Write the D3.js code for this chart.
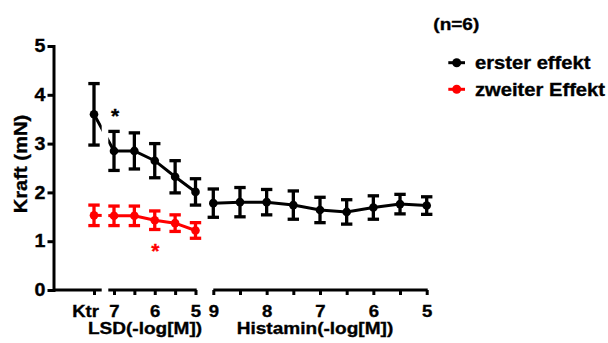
<!DOCTYPE html>
<html><head><meta charset="utf-8">
<script src="https://cdn.jsdelivr.net/npm/d3@7"></script>
<style>
body{margin:0;background:#fff}
svg{display:block}
text{font-family:"Liberation Sans",Arial,Helvetica,sans-serif;font-weight:bold;fill:#000;stroke-width:0.35px;paint-order:stroke}
</style></head><body>
<svg id="c" width="608" height="343"></svg>
<script>
// ---- data ----
const ktrLabel = ["Ktr"];
const lsdConc = [7, 6.5, 6, 5.5, 5];
const histConc = [9, 8.5, 8, 7.5, 7, 6.5, 6, 5.5, 5];
const lsdTickLabels = [7, 6, 5];
const histTickLabels = [9, 8, 7, 6, 5];
const yTicks = [0, 1, 2, 3, 4, 5];

const ersterKtr = [3.60], ersterKtrErr = [0.63];
const ersterLsd = [2.85, 2.85, 2.65, 2.32, 2.01];
const ersterLsdErr = [0.40, 0.37, 0.35, 0.33, 0.27];
const ersterHist = [1.78, 1.80, 1.80, 1.74, 1.64, 1.60, 1.69, 1.76, 1.73];
const ersterHistErr = [0.29, 0.30, 0.26, 0.29, 0.26, 0.25, 0.24, 0.20, 0.18];

const zweiterKtr = [1.53], zweiterKtrErr = [0.21];
const zweiterLsd = [1.52, 1.52, 1.43, 1.37, 1.22];
const zweiterLsdErr = [0.20, 0.20, 0.19, 0.17, 0.16];

const seriesNames = ["erster effekt", "zweiter Effekt"];
const seriesColors = ["#000000", "#ff0000"];
const nLabel = "(n=6)";
const xTitles = ["LSD(-log[M])", "Histamin(-log[M])"];
const yTitle = "Kraft (mN)";
const sigMarks = [{series: 0, conc: 7, above: true}, {series: 1, conc: 6, above: false}];

// ---- scales ----
const svg = d3.select("#c");
const y = d3.scaleLinear([0, 5], [290, 46]);
const xK = d3.scalePoint().domain(ktrLabel).range([54, 134]).padding(0.5);
const xL = d3.scaleLinear([7, 5], [114, 195.5]);
const xH = d3.scaleLinear([9, 5], [213.3, 426.7]);
const y0 = y(0);

// ---- axes ----
const segs = [[53.5, 101.7], [xL(7) - 5.7, xL(5) + 1.2], [xH(9), xH(5) + 1]];
segs.forEach(s => svg.append("line").attr("x1", s[0]).attr("x2", s[1]).attr("y1", y0).attr("y2", y0)
  .attr("stroke", "#000").attr("stroke-width", 3));

function styleAxis(g) {
  g.select(".domain").remove();
  g.selectAll(".tick line").attr("stroke", "#000").attr("stroke-width", 3);
  g.selectAll(".tick text").style("font-size", "16.5px").attr("fill", "#000").style("stroke", "#000");
  g.attr("font-family", null).attr("font-size", null);
}
const gK = svg.append("g").attr("transform", `translate(0,${y0})`)
  .call(d3.axisBottom(xK).tickSize(5).tickPadding(10)).call(styleAxis);
gK.selectAll(".tick text").attr("dx", -9);
svg.append("g").attr("transform", `translate(0,${y0})`)
  .call(d3.axisBottom(xL).tickValues(lsdConc).tickSize(5).tickPadding(10)
    .tickFormat(d => lsdTickLabels.includes(d) ? d : "")).call(styleAxis);
svg.append("g").attr("transform", `translate(0,${y0})`)
  .call(d3.axisBottom(xH).tickValues(histConc).tickSize(5).tickPadding(10)
    .tickFormat(d => histTickLabels.includes(d) ? d : "")).call(styleAxis);

const gy = svg.append("g").attr("transform", "translate(53.5,0)")
  .call(d3.axisLeft(y).tickValues(yTicks).tickFormat(d3.format("d")).tickSize(6).tickPadding(2).tickSizeOuter(0));
gy.select(".domain").attr("stroke", "#000").attr("stroke-width", 3).attr("stroke-linecap", "square");
gy.selectAll(".tick line").attr("stroke", "#000").attr("stroke-width", 3);
gy.selectAll(".tick text").style("font-size", "17.5px").attr("fill", "#000").style("stroke", "#000");
gy.attr("font-family", null).attr("font-size", null);

// ---- titles ----
function txt(sel, color) { return sel.style("stroke", color || "#000"); }
txt(svg.append("text").attr("x", 145).attr("y", 334).attr("text-anchor", "middle").style("font-size", "17px").text(xTitles[0]));
txt(svg.append("text").attr("x", 315).attr("y", 334).attr("text-anchor", "middle").style("font-size", "17px").text(xTitles[1]));
txt(svg.append("text").attr("transform", "translate(27,164) rotate(-90)").attr("text-anchor", "middle").style("font-size", "18px").text(yTitle));
txt(svg.append("text").attr("x", 433.3).attr("y", 29.5).style("font-size", "17px").text(nLabel));

// ---- series ----
const defs = svg.append("defs");
const cp = defs.append("clipPath").attr("id", "gaps");
[[0, 101.7], [108.3, 196.7], [213.3, 608]].forEach(r => cp.append("rect").attr("x", r[0]).attr("y", 0).attr("width", r[1] - r[0]).attr("height", 343));

function build(ktrV, ktrE, lsdV, lsdE, histV, histE) {
  const pts = [];
  ktrV.forEach((v, i) => pts.push({x: xK(ktrLabel[i]), v, e: ktrE[i]}));
  lsdV.forEach((v, i) => pts.push({x: xL(lsdConc[i]), v, e: lsdE[i]}));
  if (histV) histV.forEach((v, i) => pts.push({x: xH(histConc[i]), v, e: histE[i]}));
  return pts;
}
const series = [
  build(ersterKtr, ersterKtrErr, ersterLsd, ersterLsdErr, ersterHist, ersterHistErr),
  build(zweiterKtr, zweiterKtrErr, zweiterLsd, zweiterLsdErr, null, null)
];
const capW = 5.7;
series.forEach((pts, si) => {
  const col = seriesColors[si];
  const g = svg.append("g");
  g.append("path").attr("d", d3.line().x(d => d.x).y(d => y(d.v))(pts))
    .attr("fill", "none").attr("stroke", col).attr("stroke-width", 3).attr("clip-path", "url(#gaps)");
  const eb = g.selectAll(".eb").data(pts).join("g");
  eb.append("line").attr("x1", d => d.x).attr("x2", d => d.x).attr("y1", d => y(d.v - d.e)).attr("y2", d => y(d.v + d.e))
    .attr("stroke", col).attr("stroke-width", 3.3);
  [-1, 1].forEach(s => eb.append("line").attr("x1", d => d.x - capW).attr("x2", d => d.x + capW)
    .attr("y1", d => y(d.v + s * d.e)).attr("y2", d => y(d.v + s * d.e)).attr("stroke", col).attr("stroke-width", 3.3));
  g.selectAll("circle").data(pts).join("circle").attr("cx", d => d.x).attr("cy", d => y(d.v)).attr("r", 4.3).attr("fill", col);
});

// significance asterisks
sigMarks.forEach(m => {
  const i = lsdConc.indexOf(m.conc);
  const val = m.series === 0 ? ersterLsd[i] : zweiterLsd[i];
  const err = m.series === 0 ? ersterLsdErr[i] : zweiterLsdErr[i];
  const yy = m.above ? y(val + err) - 8 : y(val - err) + 29;
  svg.append("text").attr("x", xL(m.conc) + (m.series === 0 ? 1 : 0.5)).attr("y", yy).attr("text-anchor", "middle")
    .style("font-size", "21px").style("fill", seriesColors[m.series]).style("stroke", seriesColors[m.series]).text("*");
});

// ---- legend ----
const legY = [62.7, 89.3];
seriesNames.forEach((n, i) => {
  svg.append("line").attr("x1", 448.3).attr("x2", 465).attr("y1", legY[i]).attr("y2", legY[i]).attr("stroke", seriesColors[i]).attr("stroke-width", 3);
  svg.append("circle").attr("cx", 456.7).attr("cy", legY[i]).attr("r", 4.5).attr("fill", seriesColors[i]);
  txt(svg.append("text").attr("x", 475).attr("y", legY[i] + 6.2).style("font-size", "18px").text(n));
});

// horizontal stretch of all text to match the reference lettering
svg.selectAll("text").each(function () {
  const t = this.textContent;
  if (!t || t === "*") return;
  const w = this.getComputedTextLength();
  if (w > 0) { this.setAttribute("textLength", (w * 1.12).toFixed(1)); this.setAttribute("lengthAdjust", "spacingAndGlyphs"); }
});
</script>
</body></html>
